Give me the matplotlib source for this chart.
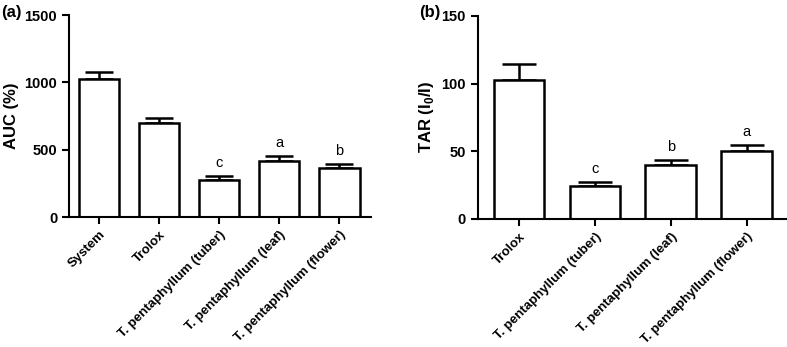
import matplotlib.pyplot as plt
import numpy as np

plt.rcParams['font.family'] = ['Liberation Sans', 'DejaVu Sans']
plt.rcParams['mathtext.fontset'] = 'custom'
plt.rcParams['mathtext.rm'] = 'Liberation Sans'
plt.rcParams['mathtext.bf'] = 'Liberation Sans:bold'

# panel (a) data
auc_names = ['System', 'Trolox', 'T. pentaphyllum (tuber)',
             'T. pentaphyllum (leaf)', 'T. pentaphyllum (flower)']
auc_vals = [1022, 696, 272, 418, 364]
auc_err = [55, 37, 30, 32, 32]
auc_letters = ['', '', 'c', 'a', 'b']

# panel (b) data
tar_names = ['Trolox', 'T. pentaphyllum (tuber)',
             'T. pentaphyllum (leaf)', 'T. pentaphyllum (flower)']
tar_vals = [102.9, 24.6, 39.9, 50.2]
tar_err = [11.6, 3.0, 3.5, 4.7]
tar_letters = ['', 'c', 'b', 'a']


def draw_panel(ax, names, vals, err, letters, ymax, step, ylabel, letter_gap, capsize, xlim):
    x = np.arange(len(names))
    ax.tick_params(direction='out', length=5, width=1.5)
    ax.errorbar(x, vals, yerr=[np.zeros(len(vals)), err], fmt='none', ecolor='black',
                elinewidth=1.8, capsize=capsize, capthick=1.8, zorder=1)
    ax.bar(x, vals, width=0.67, color='white', edgecolor='black', linewidth=1.8, zorder=2)
    for xi, v, e, t in zip(x, vals, err, letters):
        if t:
            ax.text(xi, v + e + letter_gap, t, ha='center', va='bottom', fontsize=10.5)
    ax.set_xlim(*xlim)
    ax.set_ylim(0, ymax)
    ax.set_yticks(np.arange(0, ymax + 1, step))
    ax.set_yticklabels([str(v) for v in np.arange(0, ymax + 1, step)],
                       fontsize=10.5, fontweight='bold')
    ax.set_xticks(x)
    ax.set_xticklabels(names, rotation=45, ha='right', rotation_mode='anchor',
                       fontsize=9.5, fontweight='bold')
    ax.set_ylabel(ylabel, fontsize=12, fontweight='bold', labelpad=4)
    ax.spines['top'].set_visible(False)
    ax.spines['right'].set_visible(False)
    ax.spines['left'].set_linewidth(1.5)
    ax.spines['bottom'].set_linewidth(1.5)


fig = plt.figure(figsize=(7.87, 3.47), dpi=100)

ax1 = fig.add_axes([0.0877, 0.3746, 0.384, 0.582])
draw_panel(ax1, auc_names, auc_vals, auc_err, auc_letters, 1500, 500,
           'AUC (%)', 45, 10, (-0.5, 4.53))

ax2 = fig.add_axes([0.607, 0.369, 0.392, 0.585])
draw_panel(ax2, tar_names, tar_vals, tar_err, tar_letters, 150, 50,
           r'TAR (I$_\mathbf{0}$/I)', 4.5, 12, (-0.545, 3.52))

fig.text(0.001, 0.985, '(a)', fontsize=12, fontweight='bold', va='top')
fig.text(0.533, 0.985, '(b)', fontsize=12, fontweight='bold', va='top')

fig.savefig('out.png', dpi=100)
